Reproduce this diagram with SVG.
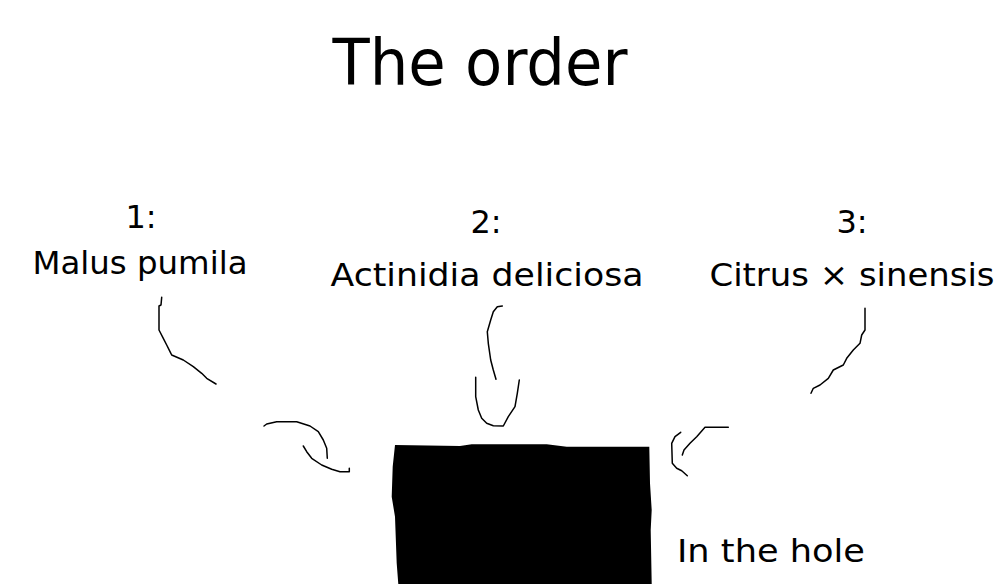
<svg xmlns="http://www.w3.org/2000/svg" width="1000" height="584" viewBox="0 0 1000 584">
<style>
text{font-family:"Comic Sans MS","DejaVu Sans","Noto Sans",sans-serif;fill:#000}
.t{font-size:64px}
.l{font-size:32px}
.c{fill:none;stroke:#000;stroke-width:1.5;stroke-linejoin:round;stroke-linecap:round}
</style>
<rect width="1000" height="584" fill="#fff"/>
<g id="title"><text class="t" x="480" y="85" text-anchor="middle" textLength="295" lengthAdjust="spacingAndGlyphs">The order</text></g>
<g id="node1">
<text class="l" x="141" y="228" text-anchor="middle">1:</text>
<text class="l" x="140" y="274" text-anchor="middle" textLength="215" lengthAdjust="spacingAndGlyphs">Malus pumila</text>
</g>
<g id="node2">
<text class="l" x="486" y="233" text-anchor="middle">2:</text>
<text class="l" x="487" y="286" text-anchor="middle" textLength="313" lengthAdjust="spacingAndGlyphs">Actinidia deliciosa</text>
</g>
<g id="node3">
<text class="l" x="852" y="233" text-anchor="middle">3:</text>
<text class="l" x="852" y="286" text-anchor="middle" textLength="285" lengthAdjust="spacingAndGlyphs">Citrus × sinensis</text>
</g>
<g id="hole">
<path d="M395,445 L460,446 L471.7,444.3 L546.7,444.3 L566.7,446.7 L649.3,446.7 L650,483.3 L651.7,510 L650.7,530 L651.7,584 L398.3,584 L396.7,563.3 L395,516.7 L391.7,496.7 L392.7,466.7 Z" fill="#000"/>
<text class="l" x="677" y="562" textLength="188" lengthAdjust="spacingAndGlyphs">In the hole</text>
</g>
<g id="connectors">
<polyline class="c" points="161.7,297.3 161,305 159,306 159,330 163.3,338.3 166.7,345 170,351.7 171.7,355 183.3,360 193.3,366.7 201.7,373.3 206.7,378.3 216,384"/>
<polyline class="c" points="264,426 266.7,424 276.7,421.7 296.7,421.7 310,426 318.3,431.7 323.3,440 326.7,448.3 327.3,458.3"/>
<polyline class="c" points="303.3,446 306.7,451.7 311.7,458.3 321.7,465 331.7,469.3 340,471.7 349.3,471.7 349.3,468.3"/>
<polyline class="c" points="502.3,306 497.3,306.7 493.3,311.7 490.7,320 487.3,331.7 488.3,343.3 490.7,360 493.3,370 496,379.3"/>
<polyline class="c" points="475.7,377.3 475.7,396.7 478.3,410 481.7,418.3 486.7,423.3 493.3,425.7 503.3,426 508.3,416.7 515,406.7 517.3,393.3 519.3,380"/>
<polyline class="c" points="865,308.3 865,330 861.7,335 860,343.3 853.3,350 846.7,358.3 843.3,365 833.3,370 828.3,378.3 820,385 813.3,388.3 811,393.3"/>
<polyline class="c" points="680.7,432.3 675,436.7 671.7,443.3 672.3,463.3 676.7,468.3 681.7,470.7 687.3,475.7"/>
<polyline class="c" points="682.3,455 684,450 690,443.3 696.7,436.7 705,427.3 728.3,427.3"/>
</g>
</svg>
